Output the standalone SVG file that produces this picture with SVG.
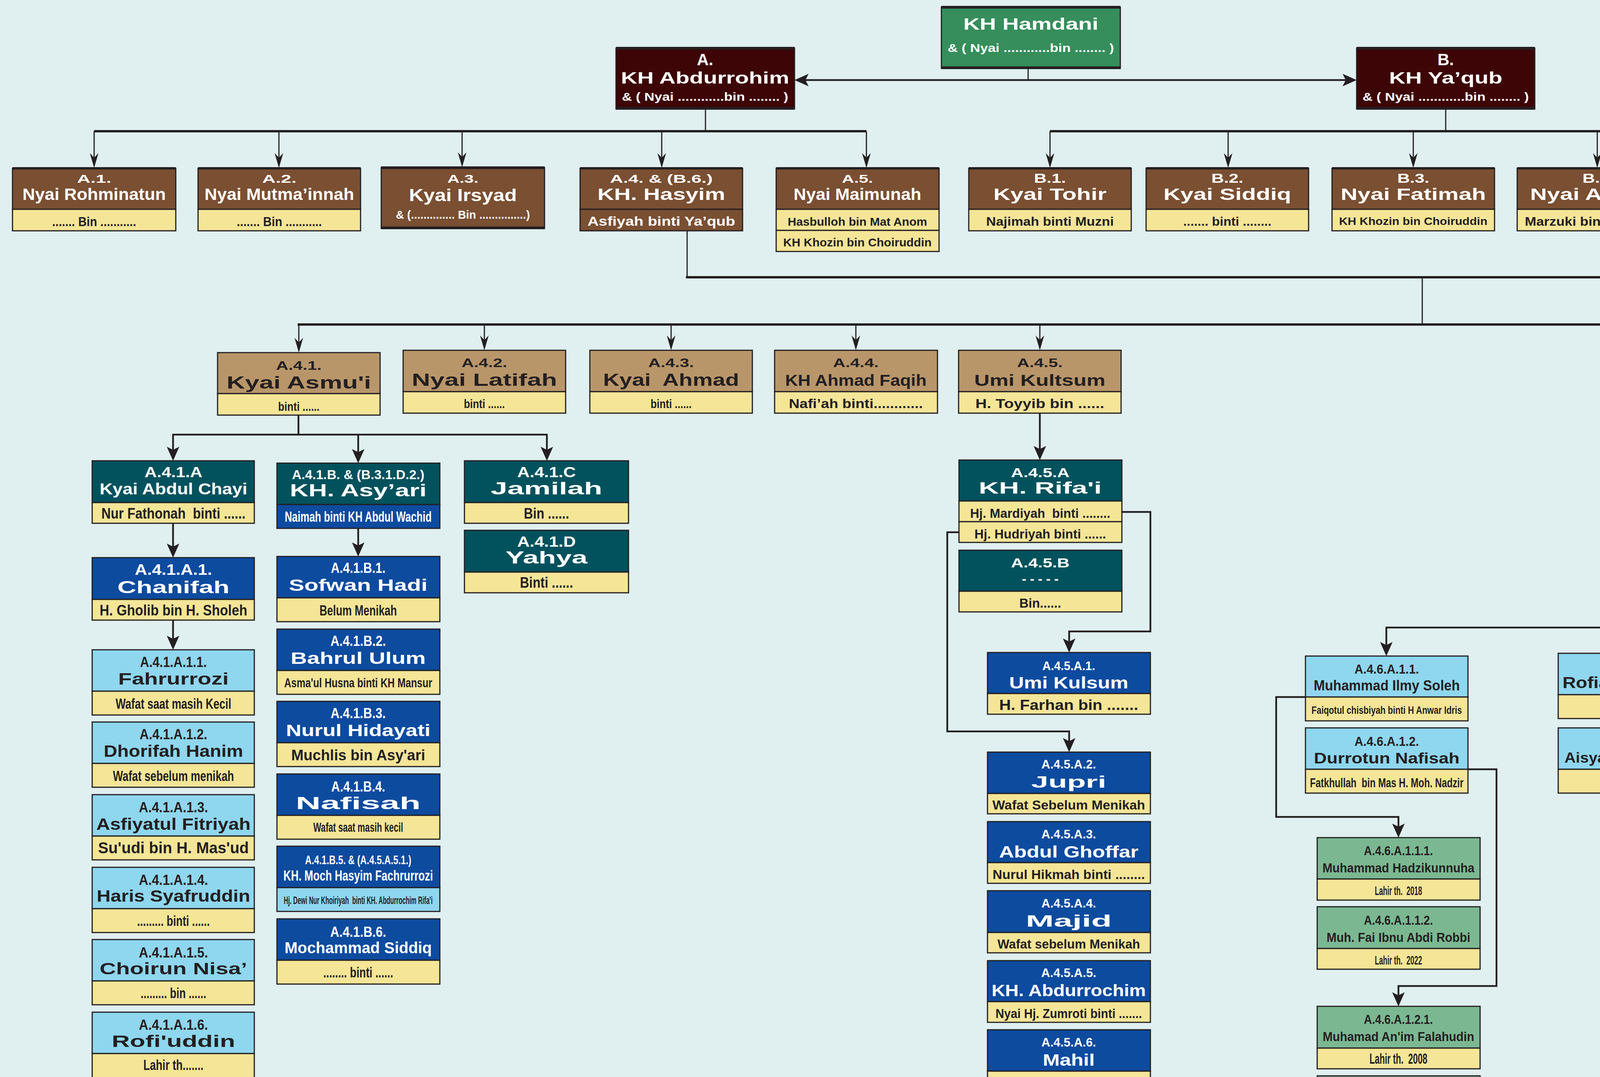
<svg xmlns="http://www.w3.org/2000/svg" width="6339" height="2758" viewBox="0 0 6339 2758">
<style>
.bx{stroke:#231f20;stroke-width:3}
.g1{fill:#358e5b}.mr{fill:#3d0506}.br{fill:#7a4f32}.tn{fill:#b9966a}.yl{fill:#f4e597}.tl{fill:#02525d}.bl{fill:#0d4b9f}.lb{fill:#8fd6ef}.gr{fill:#7bb892}
.bar{fill:#231f20}
text{font-family:'Liberation Sans',Arial,sans-serif;font-weight:bold;text-anchor:middle;white-space:pre}
.w{fill:#fff}.d{fill:#231f20}
.f24{font-size:24px}.f26{font-size:26px}.f28{font-size:28px}.f30{font-size:30px}.f32{font-size:32px}.f34{font-size:34px}.f36{font-size:36px}.f38{font-size:38px}.f40{font-size:40px}.f42{font-size:42px}.f44{font-size:44px}
.c{fill:none;stroke:#231f20;stroke-width:3}
.c5{fill:none;stroke:#231f20;stroke-width:4.5}
.bus{fill:none;stroke:#231f20;stroke-width:6}
</style>
<defs>
<marker id="an" markerUnits="userSpaceOnUse" viewBox="0 0 40 30" markerWidth="40" markerHeight="30" refX="18" refY="15" orient="auto"><path d="M0,4 L38,15 L0,26 L12,15 Z" fill="#231f20"/></marker>
<marker id="aw" markerUnits="userSpaceOnUse" viewBox="0 0 40 40" markerWidth="40" markerHeight="40" refX="16" refY="20" orient="auto"><path d="M0,4 L36,20 L0,36 L8,20 Z" fill="#231f20"/></marker>
<marker id="ab" markerUnits="userSpaceOnUse" viewBox="0 0 40 32" markerWidth="40" markerHeight="32" refX="16" refY="16" orient="auto-start-reverse"><path d="M0,0 L36,16 L0,32 L8,16 Z" fill="#231f20"/></marker>
</defs>
<rect x="0" y="0" width="6339" height="2758" fill="#e0eff0"/>

<g id="connectors">
<path class="c" d="M2632,175 V205"/>
<path class="c5" d="M2054,205 H3453" marker-start="url(#ab)" marker-end="url(#ab)"/>
<path class="c" d="M1806,279 V336 M3701,279 V336"/>
<path class="bus" d="M241,336 H2218 M2688,336 H5987"/>
<path class="c" d="M241,336 V410" marker-end="url(#an)"/>
<path class="c" d="M714,336 V410" marker-end="url(#an)"/>
<path class="c" d="M1183,336 V408" marker-end="url(#an)"/>
<path class="c" d="M1694,336 V410" marker-end="url(#an)"/>
<path class="c" d="M2218,336 V410" marker-end="url(#an)"/>
<path class="c" d="M2688,336 V410" marker-end="url(#an)"/>
<path class="c" d="M3144,336 V410" marker-end="url(#an)"/>
<path class="c" d="M3618,336 V410" marker-end="url(#an)"/>
<path class="c" d="M4089,336 V410" marker-end="url(#an)"/>
<path class="c" d="M4556,336 V410" marker-end="url(#an)"/>
<path class="c" d="M5037,336 V410" marker-end="url(#an)"/>
<path class="c" d="M5506,336 V410" marker-end="url(#an)"/>
<path class="c" d="M5987,336 V410" marker-end="url(#an)"/>
<path class="c" d="M1759,592 V710 M5037,592 V710 M3641,713 V831"/>
<path class="bus" d="M1756,710 H5040 M762,831 H6082"/>
<path class="c" d="M765,831 V883" marker-end="url(#an)"/>
<path class="c" d="M1240,831 V877" marker-end="url(#an)"/>
<path class="c" d="M1718,831 V877" marker-end="url(#an)"/>
<path class="c" d="M2191,831 V877" marker-end="url(#an)"/>
<path class="c" d="M2662,831 V877" marker-end="url(#an)"/>
<path class="c" d="M4334,831 V877" marker-end="url(#an)"/>
<path class="c" d="M5574,831 V877" marker-end="url(#an)"/>
<path class="c" d="M6079,831 V883" marker-end="url(#an)"/>
<path class="c5" d="M764,1063 V1113 M441,1113 H1402"/>
<path class="c5" d="M443,1113 V1160" marker-end="url(#aw)"/>
<path class="c5" d="M917,1113 V1166" marker-end="url(#aw)"/>
<path class="c5" d="M1400,1113 V1160" marker-end="url(#aw)"/>
<path class="c5" d="M443,1340 V1408" marker-end="url(#aw)"/>
<path class="c5" d="M443,1588 V1644" marker-end="url(#aw)"/>
<path class="c5" d="M917,1353 V1405" marker-end="url(#aw)"/>
<path class="c5" d="M2662,1058 V1158" marker-end="url(#aw)"/>
<path class="c5" d="M2872,1311 H2945 V1617 H2737 V1651" marker-end="url(#aw)"/>
<path class="c5" d="M2455,1363 H2425 V1873 H2737 V1906" marker-end="url(#aw)"/>
<path class="c5" d="M4334,1058 V1117" marker-end="url(#aw)"/>
<path class="c5" d="M4334,1296 V1356" marker-end="url(#aw)"/>
<path class="c5" d="M4334,1536 V1607 M3547,1607 H4832"/>
<path class="c5" d="M3549,1607 V1660" marker-end="url(#aw)"/>
<path class="c5" d="M4197,1607 V1653" marker-end="url(#aw)"/>
<path class="c5" d="M4830,1607 V1660" marker-end="url(#aw)"/>
<path class="c5" d="M3342,1785 H3267 V2092 H3580 V2125" marker-end="url(#aw)"/>
<path class="c5" d="M3758,1970 H3831 V2525 H3580 V2557" marker-end="url(#aw)"/>
<path class="c5" d="M5574,1058 V1117" marker-end="url(#aw)"/>
</g>

<g id="n-hamdani">
<rect x="2410" y="18" width="458" height="157" class="g1 bx"/>
<rect x="2410" y="15" width="458" height="7" class="bar"/><rect x="2410" y="170" width="458" height="7" class="bar"/>
<text x="2639" y="76" class="w f42" textLength="346" lengthAdjust="spacingAndGlyphs">KH Hamdani</text>
<text x="2639" y="133" class="w f30" textLength="426" lengthAdjust="spacingAndGlyphs">&amp; ( Nyai ............bin ........ )</text>
</g>
<g id="n-A">
<rect x="1577" y="123" width="457" height="156" class="mr bx"/>
<rect x="1577" y="120" width="457" height="7" class="bar"/><rect x="1577" y="274" width="457" height="7" class="bar"/>
<text x="1805" y="167" class="w f42">A.</text>
<text x="1805" y="214" class="w f42" textLength="431" lengthAdjust="spacingAndGlyphs">KH Abdurrohim</text>
<text x="1805" y="258" class="w f30" textLength="426" lengthAdjust="spacingAndGlyphs">&amp; ( Nyai ............bin ........ )</text>
</g>
<g id="n-B">
<rect x="3473" y="123" width="456" height="156" class="mr bx"/>
<rect x="3473" y="120" width="456" height="7" class="bar"/><rect x="3473" y="274" width="456" height="7" class="bar"/>
<text x="3701" y="167" class="w f42">B.</text>
<text x="3701" y="214" class="w f42" textLength="290" lengthAdjust="spacingAndGlyphs">KH Ya’qub</text>
<text x="3701" y="258" class="w f30" textLength="426" lengthAdjust="spacingAndGlyphs">&amp; ( Nyai ............bin ........ )</text>
</g>

<g id="n-A1">
<rect x="32" y="431" width="418" height="105" class="br bx"/><rect x="32" y="536" width="418" height="55" class="yl bx"/><rect x="32" y="428" width="418" height="6" class="bar"/>
<text x="241" y="468" class="w f30" textLength="88" lengthAdjust="spacingAndGlyphs">A.1.</text>
<text x="241" y="512" class="w f42" textLength="367" lengthAdjust="spacingAndGlyphs">Nyai Rohminatun</text>
<text x="241" y="579" class="d f34" textLength="215" lengthAdjust="spacingAndGlyphs">....... Bin ...........</text>
</g>
<g id="n-A2">
<rect x="507" y="431" width="416" height="105" class="br bx"/><rect x="507" y="536" width="416" height="55" class="yl bx"/><rect x="507" y="428" width="416" height="6" class="bar"/>
<text x="715" y="468" class="w f30" textLength="88" lengthAdjust="spacingAndGlyphs">A.2.</text>
<text x="715" y="512" class="w f42" textLength="383" lengthAdjust="spacingAndGlyphs">Nyai Mutma’innah</text>
<text x="715" y="579" class="d f34" textLength="218" lengthAdjust="spacingAndGlyphs">....... Bin ...........</text>
</g>
<g id="n-A3">
<rect x="976" y="429" width="418" height="156" class="br bx"/><rect x="976" y="426" width="418" height="7" class="bar"/><rect x="976" y="580" width="418" height="7" class="bar"/>
<text x="1185" y="468" class="w f30" textLength="80" lengthAdjust="spacingAndGlyphs">A.3.</text>
<text x="1185" y="515" class="w f44" textLength="276" lengthAdjust="spacingAndGlyphs">Kyai Irsyad</text>
<text x="1185" y="560" class="w f30" textLength="343" lengthAdjust="spacingAndGlyphs">&amp; (.............. Bin ...............)</text>
</g>
<g id="n-A4">
<rect x="1485" y="431" width="416" height="105" class="br bx"/><rect x="1485" y="536" width="416" height="55" class="br bx"/><rect x="1485" y="428" width="416" height="6" class="bar"/>
<text x="1693" y="468" class="w f30" textLength="263" lengthAdjust="spacingAndGlyphs">A.4. &amp; (B.6.)</text>
<text x="1693" y="512" class="w f42" textLength="327" lengthAdjust="spacingAndGlyphs">KH. Hasyim</text>
<text x="1693" y="578" class="w f34" textLength="378" lengthAdjust="spacingAndGlyphs">Asfiyah binti Ya’qub</text>
</g>
<g id="n-A5">
<rect x="1987" y="431" width="417" height="105" class="br bx"/><rect x="1987" y="536" width="417" height="54" class="yl bx"/><rect x="1987" y="590" width="417" height="54" class="yl bx"/><rect x="1987" y="428" width="417" height="6" class="bar"/>
<text x="2195" y="468" class="w f30" textLength="80" lengthAdjust="spacingAndGlyphs">A.5.</text>
<text x="2195" y="512" class="w f42" textLength="327" lengthAdjust="spacingAndGlyphs">Nyai Maimunah</text>
<text x="2195" y="578" class="d f30" textLength="357" lengthAdjust="spacingAndGlyphs">Hasbulloh bin Mat Anom</text>
<text x="2195" y="631" class="d f30" textLength="380" lengthAdjust="spacingAndGlyphs">KH Khozin bin Choiruddin</text>
</g>

<g id="n-B1">
<rect x="2480" y="431" width="416" height="105" class="br bx"/><rect x="2480" y="536" width="416" height="55" class="yl bx"/><rect x="2480" y="428" width="416" height="6" class="bar"/>
<text x="2688" y="468" class="w f34" textLength="82" lengthAdjust="spacingAndGlyphs">B.1.</text>
<text x="2688" y="512" class="w f42" textLength="290" lengthAdjust="spacingAndGlyphs">Kyai Tohir</text>
<text x="2688" y="578" class="d f32" textLength="327" lengthAdjust="spacingAndGlyphs">Najimah binti Muzni</text>
</g>
<g id="n-B2">
<rect x="2934" y="431" width="416" height="105" class="br bx"/><rect x="2934" y="536" width="416" height="55" class="yl bx"/><rect x="2934" y="428" width="416" height="6" class="bar"/>
<text x="3142" y="468" class="w f34" textLength="82" lengthAdjust="spacingAndGlyphs">B.2.</text>
<text x="3142" y="512" class="w f42" textLength="327" lengthAdjust="spacingAndGlyphs">Kyai Siddiq</text>
<text x="3142" y="578" class="d f32" textLength="226" lengthAdjust="spacingAndGlyphs">....... binti ........</text>
</g>
<g id="n-B3">
<rect x="3410" y="431" width="416" height="105" class="br bx"/><rect x="3410" y="536" width="416" height="55" class="yl bx"/><rect x="3410" y="428" width="416" height="6" class="bar"/>
<text x="3618" y="468" class="w f34" textLength="82" lengthAdjust="spacingAndGlyphs">B.3.</text>
<text x="3618" y="512" class="w f42" textLength="372" lengthAdjust="spacingAndGlyphs">Nyai Fatimah</text>
<text x="3618" y="576" class="d f28" textLength="380" lengthAdjust="spacingAndGlyphs">KH Khozin bin Choiruddin</text>
</g>
<g id="n-B4">
<rect x="3884" y="431" width="416" height="105" class="br bx"/><rect x="3884" y="536" width="416" height="55" class="yl bx"/><rect x="3884" y="428" width="416" height="6" class="bar"/>
<text x="4092" y="468" class="w f34" textLength="82" lengthAdjust="spacingAndGlyphs">B.4.</text>
<text x="4092" y="512" class="w f42" textLength="350" lengthAdjust="spacingAndGlyphs">Nyai A’isyah</text>
<text x="4092" y="578" class="d f32" textLength="377" lengthAdjust="spacingAndGlyphs">Marzuki bin Kyai Bakri</text>
</g>
<g id="n-B5">
<rect x="4357" y="431" width="417" height="105" class="br bx"/><rect x="4357" y="536" width="417" height="55" class="yl bx"/><rect x="4357" y="428" width="417" height="6" class="bar"/>
<text x="4565" y="468" class="w f34" textLength="82" lengthAdjust="spacingAndGlyphs">B.5.</text>
<text x="4565" y="512" class="w f42" textLength="327" lengthAdjust="spacingAndGlyphs">Ruqoyyah</text>
<text x="4565" y="578" class="d f32" textLength="340" lengthAdjust="spacingAndGlyphs">Kyai Adzro’i bin .......</text>
</g>
<g id="n-B6">
<rect x="4831" y="431" width="417" height="105" class="br bx"/><rect x="4831" y="536" width="417" height="55" class="br bx"/><rect x="4831" y="428" width="417" height="6" class="bar"/>
<text x="5039" y="468" class="w f34" textLength="258" lengthAdjust="spacingAndGlyphs">B.6. &amp; (A.4.)</text>
<text x="5039" y="512" class="w f42" textLength="360" lengthAdjust="spacingAndGlyphs">Nyai Asfiyah</text>
<text x="5039" y="574" class="w f26" textLength="372" lengthAdjust="spacingAndGlyphs">KH. Hasyim bin Abdurrohim</text>
</g>
<g id="n-B7">
<rect x="5305" y="431" width="416" height="105" class="br bx"/><rect x="5305" y="536" width="416" height="55" class="yl bx"/><rect x="5305" y="428" width="416" height="6" class="bar"/>
<text x="5513" y="468" class="w f34" textLength="82" lengthAdjust="spacingAndGlyphs">B.7.</text>
<text x="5513" y="512" class="w f42" textLength="397" lengthAdjust="spacingAndGlyphs">Nyai Khodijah</text>
<text x="5513" y="574" class="d f26" textLength="372" lengthAdjust="spacingAndGlyphs">KH Hasyim Asy’ari bin Asy’ari</text>
</g>
<g id="n-B8">
<rect x="5778" y="431" width="417" height="105" class="br bx"/><rect x="5778" y="536" width="417" height="55" class="yl bx"/><rect x="5778" y="428" width="417" height="6" class="bar"/>
<text x="5986" y="468" class="w f34" textLength="82" lengthAdjust="spacingAndGlyphs">B.8.</text>
<text x="5986" y="510" class="w f34" textLength="377" lengthAdjust="spacingAndGlyphs">KH Abdul Mukhith</text>
<text x="5986" y="573" class="d f24" textLength="377" lengthAdjust="spacingAndGlyphs">Zuhro binti Syech Nawawi Albantani</text>
</g>

<g id="n-A41">
<rect x="557" y="903" width="416" height="105" class="tn bx"/><rect x="557" y="1008" width="416" height="55" class="yl bx"/>
<text x="765" y="947" class="d f32" textLength="117" lengthAdjust="spacingAndGlyphs">A.4.1.</text>
<text x="765" y="995" class="d f44" textLength="370" lengthAdjust="spacingAndGlyphs">Kyai Asmu'i</text>
<text x="765" y="1052" class="d f32" textLength="106" lengthAdjust="spacingAndGlyphs">binti ......</text>
</g>
<g id="n-A42">
<rect x="1032" y="897" width="416" height="106" class="tn bx"/><rect x="1032" y="1003" width="416" height="55" class="yl bx"/>
<text x="1240" y="940" class="d f32" textLength="117" lengthAdjust="spacingAndGlyphs">A.4.2.</text>
<text x="1240" y="988" class="d f44" textLength="372" lengthAdjust="spacingAndGlyphs">Nyai Latifah</text>
<text x="1240" y="1045" class="d f32" textLength="105" lengthAdjust="spacingAndGlyphs">binti ......</text>
</g>
<g id="n-A43">
<rect x="1510" y="897" width="416" height="106" class="tn bx"/><rect x="1510" y="1003" width="416" height="55" class="yl bx"/>
<text x="1718" y="940" class="d f32" textLength="117" lengthAdjust="spacingAndGlyphs">A.4.3.</text>
<text x="1718" y="988" class="d f44" textLength="348" lengthAdjust="spacingAndGlyphs">Kyai  Ahmad</text>
<text x="1718" y="1045" class="d f32" textLength="105" lengthAdjust="spacingAndGlyphs">binti ......</text>
</g>
<g id="n-A44">
<rect x="1983" y="897" width="417" height="106" class="tn bx"/><rect x="1983" y="1003" width="417" height="55" class="yl bx"/>
<text x="2191" y="940" class="d f32" textLength="117" lengthAdjust="spacingAndGlyphs">A.4.4.</text>
<text x="2191" y="988" class="d f40" textLength="362" lengthAdjust="spacingAndGlyphs">KH Ahmad Faqih</text>
<text x="2191" y="1045" class="d f34" textLength="343" lengthAdjust="spacingAndGlyphs">Nafi’ah binti............</text>
</g>
<g id="n-A45">
<rect x="2454" y="897" width="416" height="106" class="tn bx"/><rect x="2454" y="1003" width="416" height="55" class="yl bx"/>
<text x="2662" y="940" class="d f32" textLength="117" lengthAdjust="spacingAndGlyphs">A.4.5.</text>
<text x="2662" y="988" class="d f40" textLength="336" lengthAdjust="spacingAndGlyphs">Umi Kultsum</text>
<text x="2662" y="1045" class="d f34" textLength="330" lengthAdjust="spacingAndGlyphs">H. Toyyib bin ......</text>
</g>
<g id="n-A46">
<rect x="4125" y="897" width="416" height="106" class="tn bx"/><rect x="4125" y="1003" width="416" height="55" class="yl bx"/>
<text x="4333" y="940" class="d f32" textLength="117" lengthAdjust="spacingAndGlyphs">A.4.6.</text>
<text x="4333" y="988" class="d f42" textLength="380" lengthAdjust="spacingAndGlyphs">Achmad Sholeh</text>
<text x="4333" y="1045" class="d f32" textLength="107" lengthAdjust="spacingAndGlyphs">binti ......</text>
</g>
<g id="n-A47">
<rect x="5368" y="897" width="415" height="106" class="tn bx"/><rect x="5368" y="1003" width="415" height="55" class="yl bx"/>
<text x="5575" y="940" class="d f32" textLength="117" lengthAdjust="spacingAndGlyphs">A.4.7.</text>
<text x="5575" y="988" class="d f42" textLength="367" lengthAdjust="spacingAndGlyphs">Nyai Mahbubah</text>
<text x="5575" y="1045" class="d f30" textLength="376" lengthAdjust="spacingAndGlyphs">KH. Khannan bin ................</text>
</g>
<g id="n-A48">
<rect x="5872" y="903" width="416" height="105" class="tn bx"/><rect x="5872" y="1008" width="416" height="55" class="yl bx"/>
<text x="6080" y="947" class="d f32" textLength="117" lengthAdjust="spacingAndGlyphs">A.4.8.</text>
<text x="6080" y="995" class="d f44" textLength="368" lengthAdjust="spacingAndGlyphs">Nyai Rohmah</text>
<text x="6080" y="1052" class="d f32" textLength="107" lengthAdjust="spacingAndGlyphs">binti ......</text>
</g>

<g id="n-A41A">
<rect x="236" y="1180" width="415" height="107" class="tl bx"/><rect x="236" y="1287" width="415" height="53" class="yl bx"/>
<text x="444" y="1222" class="w f36" textLength="148" lengthAdjust="spacingAndGlyphs">A.4.1.A</text>
<text x="444" y="1266" class="w f40" textLength="378" lengthAdjust="spacingAndGlyphs">Kyai Abdul Chayi</text>
<text x="444" y="1328" class="d f38" textLength="369" lengthAdjust="spacingAndGlyphs">Nur Fathonah  binti ......</text>
</g>
<g id="n-A41B">
<rect x="709" y="1186" width="417" height="106" class="tl bx"/><rect x="709" y="1292" width="417" height="61" class="bl bx"/>
<text x="917" y="1227" class="w f34" textLength="339" lengthAdjust="spacingAndGlyphs">A.4.1.B. &amp; (B.3.1.D.2.)</text>
<text x="917" y="1271" class="w f44" textLength="350" lengthAdjust="spacingAndGlyphs">KH. Asy’ari</text>
<text x="917" y="1336" class="w f36" textLength="376" lengthAdjust="spacingAndGlyphs">Naimah binti KH Abdul Wachid</text>
</g>
<g id="n-A41C">
<rect x="1189" y="1180" width="420" height="107" class="tl bx"/><rect x="1189" y="1287" width="420" height="53" class="yl bx"/>
<text x="1399" y="1222" class="w f36" textLength="150" lengthAdjust="spacingAndGlyphs">A.4.1.C</text>
<text x="1399" y="1266" class="w f44" textLength="286" lengthAdjust="spacingAndGlyphs">Jamilah</text>
<text x="1399" y="1328" class="d f38" textLength="116" lengthAdjust="spacingAndGlyphs">Bin ......</text>
</g>
<g id="n-A41D">
<rect x="1189" y="1358" width="420" height="107" class="tl bx"/><rect x="1189" y="1465" width="420" height="53" class="yl bx"/>
<text x="1399" y="1400" class="w f36" textLength="150" lengthAdjust="spacingAndGlyphs">A.4.1.D</text>
<text x="1399" y="1443" class="w f44" textLength="210" lengthAdjust="spacingAndGlyphs">Yahya</text>
<text x="1399" y="1505" class="d f38" textLength="136" lengthAdjust="spacingAndGlyphs">Binti ......</text>
</g>
<g id="n-A41A1">
<rect x="236" y="1428" width="415" height="107" class="bl bx"/><rect x="236" y="1535" width="415" height="53" class="yl bx"/>
<text x="444" y="1472" class="w f38" textLength="198" lengthAdjust="spacingAndGlyphs">A.4.1.A.1.</text>
<text x="444" y="1519" class="w f44" textLength="287" lengthAdjust="spacingAndGlyphs">Chanifah</text>
<text x="444" y="1576" class="d f38" textLength="378" lengthAdjust="spacingAndGlyphs">H. Gholib bin H. Sholeh</text>
</g>
<g id="n-A41A11">
<rect x="236" y="1664" width="415" height="106" class="lb bx"/><rect x="236" y="1770" width="415" height="61" class="yl bx"/>
<text x="444" y="1708" class="d f36" textLength="171" lengthAdjust="spacingAndGlyphs">A.4.1.A.1.1.</text>
<text x="444" y="1753" class="d f42" textLength="283" lengthAdjust="spacingAndGlyphs">Fahrurrozi</text>
<text x="444" y="1815" class="d f36" textLength="296" lengthAdjust="spacingAndGlyphs">Wafat saat masih Kecil</text>
</g>
<g id="n-A41A12">
<rect x="236" y="1849" width="415" height="106" class="lb bx"/><rect x="236" y="1955" width="415" height="61" class="yl bx"/>
<text x="444" y="1893" class="d f36" textLength="173" lengthAdjust="spacingAndGlyphs">A.4.1.A.1.2.</text>
<text x="444" y="1938" class="d f42" textLength="357" lengthAdjust="spacingAndGlyphs">Dhorifah Hanim</text>
<text x="444" y="2000" class="d f36" textLength="310" lengthAdjust="spacingAndGlyphs">Wafat sebelum menikah</text>
</g>
<g id="n-A41A13">
<rect x="236" y="2035" width="415" height="106" class="lb bx"/><rect x="236" y="2141" width="415" height="61" class="yl bx"/>
<text x="444" y="2080" class="d f36" textLength="177" lengthAdjust="spacingAndGlyphs">A.4.1.A.1.3.</text>
<text x="444" y="2125" class="d f42" textLength="395" lengthAdjust="spacingAndGlyphs">Asfiyatul Fitriyah</text>
<text x="444" y="2185" class="d f40" textLength="386" lengthAdjust="spacingAndGlyphs">Su'udi bin H. Mas'ud</text>
</g>
<g id="n-A41A14">
<rect x="236" y="2221" width="415" height="106" class="lb bx"/><rect x="236" y="2327" width="415" height="61" class="yl bx"/>
<text x="444" y="2266" class="d f36" textLength="177" lengthAdjust="spacingAndGlyphs">A.4.1.A.1.4.</text>
<text x="444" y="2309" class="d f42" textLength="393" lengthAdjust="spacingAndGlyphs">Haris Syafruddin</text>
<text x="444" y="2371" class="d f36" textLength="186" lengthAdjust="spacingAndGlyphs">......... binti ......</text>
</g>
<g id="n-A41A15">
<rect x="236" y="2406" width="415" height="106" class="lb bx"/><rect x="236" y="2512" width="415" height="61" class="yl bx"/>
<text x="444" y="2452" class="d f36" textLength="177" lengthAdjust="spacingAndGlyphs">A.4.1.A.1.5.</text>
<text x="444" y="2495" class="d f42" textLength="378" lengthAdjust="spacingAndGlyphs">Choirun Nisa’</text>
<text x="444" y="2556" class="d f36" textLength="168" lengthAdjust="spacingAndGlyphs">......... bin ......</text>
</g>
<g id="n-A41A16">
<rect x="236" y="2592" width="415" height="106" class="lb bx"/><rect x="236" y="2698" width="415" height="64" class="yl bx"/>
<text x="444" y="2637" class="d f36" textLength="177" lengthAdjust="spacingAndGlyphs">A.4.1.A.1.6.</text>
<text x="444" y="2681" class="d f42" textLength="316" lengthAdjust="spacingAndGlyphs">Rofi'uddin</text>
<text x="444" y="2740" class="d f36" textLength="154" lengthAdjust="spacingAndGlyphs">Lahir th.......</text>
</g>
<g id="n-A41B1">
<rect x="709" y="1425" width="417" height="106" class="bl bx"/><rect x="709" y="1531" width="417" height="61" class="yl bx"/>
<text x="917" y="1467" class="w f36" textLength="140" lengthAdjust="spacingAndGlyphs">A.4.1.B.1.</text>
<text x="917" y="1513" class="w f42" textLength="355" lengthAdjust="spacingAndGlyphs">Sofwan Hadi</text>
<text x="917" y="1576" class="d f36" textLength="198" lengthAdjust="spacingAndGlyphs">Belum Menikah</text>
</g>
<g id="n-A41B2">
<rect x="709" y="1611" width="417" height="106" class="bl bx"/><rect x="709" y="1717" width="417" height="61" class="yl bx"/>
<text x="917" y="1654" class="w f36" textLength="142" lengthAdjust="spacingAndGlyphs">A.4.1.B.2.</text>
<text x="917" y="1700" class="w f42" textLength="346" lengthAdjust="spacingAndGlyphs">Bahrul Ulum</text>
<text x="917" y="1760" class="d f34" textLength="379" lengthAdjust="spacingAndGlyphs">Asma'ul Husna binti KH Mansur</text>
</g>
<g id="n-A41B3">
<rect x="709" y="1796" width="417" height="106" class="bl bx"/><rect x="709" y="1902" width="417" height="61" class="yl bx"/>
<text x="917" y="1839" class="w f36" textLength="141" lengthAdjust="spacingAndGlyphs">A.4.1.B.3.</text>
<text x="917" y="1885" class="w f42" textLength="370" lengthAdjust="spacingAndGlyphs">Nurul Hidayati</text>
<text x="917" y="1947" class="d f38" textLength="343" lengthAdjust="spacingAndGlyphs">Muchlis bin Asy'ari</text>
</g>
<g id="n-A41B4">
<rect x="709" y="1982" width="417" height="106" class="bl bx"/><rect x="709" y="2088" width="417" height="61" class="yl bx"/>
<text x="917" y="2027" class="w f36" textLength="138" lengthAdjust="spacingAndGlyphs">A.4.1.B.4.</text>
<text x="917" y="2072" class="w f44" textLength="320" lengthAdjust="spacingAndGlyphs">Nafisah</text>
<text x="917" y="2130" class="d f34" textLength="230" lengthAdjust="spacingAndGlyphs">Wafat saat masih kecil</text>
</g>
<g id="n-A41B5">
<rect x="709" y="2167" width="417" height="106" class="bl bx"/><rect x="709" y="2273" width="417" height="61" class="lb bx"/>
<text x="917" y="2213" class="w f32" textLength="272" lengthAdjust="spacingAndGlyphs">A.4.1.B.5. &amp; (A.4.5.A.5.1.)</text>
<text x="917" y="2255" class="w f36" textLength="383" lengthAdjust="spacingAndGlyphs">KH. Moch Hasyim Fachrurrozi</text>
<text x="917" y="2315" class="d f28" textLength="381" lengthAdjust="spacingAndGlyphs">Hj. Dewi Nur Khoiriyah  binti KH. Abdurrochim Rifa'i</text>
</g>
<g id="n-A41B6">
<rect x="709" y="2353" width="417" height="106" class="bl bx"/><rect x="709" y="2459" width="417" height="61" class="yl bx"/>
<text x="917" y="2399" class="w f36" textLength="143" lengthAdjust="spacingAndGlyphs">A.4.1.B.6.</text>
<text x="917" y="2441" class="w f40" textLength="377" lengthAdjust="spacingAndGlyphs">Mochammad Siddiq</text>
<text x="917" y="2503" class="d f36" textLength="179" lengthAdjust="spacingAndGlyphs">........ binti ......</text>
</g>

<g id="n-A45A">
<rect x="2455" y="1178" width="417" height="105" class="tl bx"/><rect x="2455" y="1283" width="417" height="53" class="yl bx"/><rect x="2455" y="1336" width="417" height="53" class="yl bx"/>
<text x="2663" y="1222" class="w f34" textLength="150" lengthAdjust="spacingAndGlyphs">A.4.5.A</text>
<text x="2663" y="1264" class="w f42" textLength="315" lengthAdjust="spacingAndGlyphs">KH. Rifa'i</text>
<text x="2663" y="1326" class="d f34" textLength="359" lengthAdjust="spacingAndGlyphs">Hj. Mardiyah  binti ........</text>
<text x="2663" y="1379" class="d f34" textLength="337" lengthAdjust="spacingAndGlyphs">Hj. Hudriyah binti ......</text>
</g>
<g id="n-A45B">
<rect x="2455" y="1409" width="417" height="105" class="tl bx"/><rect x="2455" y="1514" width="417" height="53" class="yl bx"/>
<text x="2663" y="1453" class="w f34" textLength="150" lengthAdjust="spacingAndGlyphs">A.4.5.B</text>
<text x="2663" y="1494" class="w f34" textLength="94" lengthAdjust="spacingAndGlyphs">- - - - -</text>
<text x="2663" y="1556" class="d f34" textLength="107" lengthAdjust="spacingAndGlyphs">Bin......</text>
</g>
<g id="n-A45A1">
<rect x="2528" y="1671" width="417" height="105" class="bl bx"/><rect x="2528" y="1776" width="417" height="53" class="yl bx"/>
<text x="2736" y="1716" class="w f32" textLength="135" lengthAdjust="spacingAndGlyphs">A.4.5.A.1.</text>
<text x="2736" y="1763" class="w f42" textLength="305" lengthAdjust="spacingAndGlyphs">Umi Kulsum</text>
<text x="2736" y="1818" class="d f36" textLength="356" lengthAdjust="spacingAndGlyphs">H. Farhan bin .......</text>
</g>
<g id="n-A45A2">
<rect x="2528" y="1926" width="417" height="106" class="bl bx"/><rect x="2528" y="2032" width="417" height="52" class="yl bx"/>
<text x="2736" y="1968" class="w f32" textLength="140" lengthAdjust="spacingAndGlyphs">A.4.5.A.2.</text>
<text x="2736" y="2017" class="w f42" textLength="192" lengthAdjust="spacingAndGlyphs">Jupri</text>
<text x="2736" y="2073" class="d f34" textLength="391" lengthAdjust="spacingAndGlyphs">Wafat Sebelum Menikah</text>
</g>
<g id="n-A45A3">
<rect x="2528" y="2104" width="417" height="105" class="bl bx"/><rect x="2528" y="2209" width="417" height="53" class="yl bx"/>
<text x="2736" y="2147" class="w f32" textLength="140" lengthAdjust="spacingAndGlyphs">A.4.5.A.3.</text>
<text x="2736" y="2196" class="w f42" textLength="357" lengthAdjust="spacingAndGlyphs">Abdul Ghoffar</text>
<text x="2736" y="2251" class="d f34" textLength="390" lengthAdjust="spacingAndGlyphs">Nurul Hikmah binti ........</text>
</g>
<g id="n-A45A4">
<rect x="2528" y="2281" width="417" height="107" class="bl bx"/><rect x="2528" y="2388" width="417" height="52" class="yl bx"/>
<text x="2736" y="2324" class="w f32" textLength="140" lengthAdjust="spacingAndGlyphs">A.4.5.A.4.</text>
<text x="2736" y="2373" class="w f42" textLength="220" lengthAdjust="spacingAndGlyphs">Majid</text>
<text x="2736" y="2429" class="d f34" textLength="365" lengthAdjust="spacingAndGlyphs">Wafat sebelum Menikah</text>
</g>
<g id="n-A45A5">
<rect x="2528" y="2460" width="417" height="105" class="bl bx"/><rect x="2528" y="2565" width="417" height="53" class="yl bx"/>
<text x="2736" y="2502" class="w f32" textLength="141" lengthAdjust="spacingAndGlyphs">A.4.5.A.5.</text>
<text x="2736" y="2551" class="w f42" textLength="395" lengthAdjust="spacingAndGlyphs">KH. Abdurrochim</text>
<text x="2736" y="2607" class="d f34" textLength="375" lengthAdjust="spacingAndGlyphs">Nyai Hj. Zumroti binti .......</text>
</g>
<g id="n-A45A6">
<rect x="2528" y="2637" width="417" height="106" class="bl bx"/><rect x="2528" y="2743" width="417" height="30" class="yl bx"/>
<text x="2736" y="2680" class="w f32" textLength="140" lengthAdjust="spacingAndGlyphs">A.4.5.A.6.</text>
<text x="2736" y="2729" class="w f42" textLength="133" lengthAdjust="spacingAndGlyphs">Mahil</text>
</g>

<g id="n-A46A">
<rect x="4127" y="1137" width="415" height="106" class="tl bx"/><rect x="4127" y="1243" width="415" height="53" class="yl bx"/>
<text x="4334" y="1179" class="w f36" textLength="149" lengthAdjust="spacingAndGlyphs">A.4.6.A</text>
<text x="4334" y="1222" class="w f38" textLength="381" lengthAdjust="spacingAndGlyphs">Hj. Asfiyatus Solihah</text>
<text x="4334" y="1282" class="d f28" textLength="401" lengthAdjust="spacingAndGlyphs">KH. Muh. Said bin KH Dahlan Abd Lathif</text>
</g>
<g id="n-A46A1">
<rect x="4127" y="1376" width="415" height="107" class="bl bx"/><rect x="4127" y="1483" width="415" height="53" class="yl bx"/>
<text x="4334" y="1419" class="w f36" textLength="135" lengthAdjust="spacingAndGlyphs">A.4.6.A.1.</text>
<text x="4334" y="1467" class="w f38" textLength="365" lengthAdjust="spacingAndGlyphs">Hj. Nailatul Jannah</text>
<text x="4334" y="1522" class="d f32" textLength="371" lengthAdjust="spacingAndGlyphs">Mas Muh. Baiquni bin H. Kholil</text>
</g>
<g id="n-A46A11">
<rect x="3342" y="1680" width="416" height="105" class="lb bx"/><rect x="3342" y="1785" width="416" height="61" class="yl bx"/>
<text x="3550" y="1725" class="d f34" textLength="165" lengthAdjust="spacingAndGlyphs">A.4.6.A.1.1.</text>
<text x="3550" y="1768" class="d f36" textLength="374" lengthAdjust="spacingAndGlyphs">Muhammad Ilmy Soleh</text>
<text x="3550" y="1828" class="d f28" textLength="385" lengthAdjust="spacingAndGlyphs">Faiqotul chisbiyah binti H Anwar Idris</text>
</g>
<g id="n-A46A12">
<rect x="3342" y="1864" width="416" height="106" class="lb bx"/><rect x="3342" y="1970" width="416" height="61" class="yl bx"/>
<text x="3550" y="1910" class="d f34" textLength="165" lengthAdjust="spacingAndGlyphs">A.4.6.A.1.2.</text>
<text x="3550" y="1955" class="d f38" textLength="373" lengthAdjust="spacingAndGlyphs">Durrotun Nafisah</text>
<text x="3550" y="2016" class="d f34" textLength="393" lengthAdjust="spacingAndGlyphs">Fatkhullah  bin Mas H. Moh. Nadzir</text>
</g>
<g id="n-A46A13">
<rect x="3989" y="1673" width="415" height="106" class="lb bx"/><rect x="3989" y="1779" width="415" height="61" class="yl bx"/>
<text x="4197" y="1717" class="d f34" textLength="164" lengthAdjust="spacingAndGlyphs">A.4.6.A.1.3.</text>
<text x="4197" y="1762" class="d f40" textLength="394" lengthAdjust="spacingAndGlyphs">Rofiatul Badriyah</text>
<text x="4197" y="1823" class="d f34" textLength="193" lengthAdjust="spacingAndGlyphs">Lahir th.  .........</text>
</g>
<g id="n-A46A14">
<rect x="3989" y="1864" width="415" height="106" class="lb bx"/><rect x="3989" y="1970" width="415" height="61" class="yl bx"/>
<text x="4197" y="1909" class="d f34" textLength="164" lengthAdjust="spacingAndGlyphs">A.4.6.A.1.4.</text>
<text x="4197" y="1953" class="d f36" textLength="384" lengthAdjust="spacingAndGlyphs">Aisyah Nur Rizkiyan</text>
<text x="4197" y="2015" class="d f34" textLength="193" lengthAdjust="spacingAndGlyphs">Lahir th.  .........</text>
</g>
<g id="n-A46A15">
<rect x="4622" y="1680" width="416" height="105" class="lb bx"/><rect x="4622" y="1785" width="416" height="61" class="yl bx"/>
<text x="4830" y="1725" class="d f34" textLength="166" lengthAdjust="spacingAndGlyphs">A.4.6.A.1.5.</text>
<text x="4830" y="1768" class="d f36" textLength="367" lengthAdjust="spacingAndGlyphs">Siti Unzilaturrohmah</text>
<text x="4830" y="1829" class="d f34" textLength="192" lengthAdjust="spacingAndGlyphs">Lahir th.  .........</text>
</g>
<g id="n-A46A111">
<rect x="3372" y="2145" width="417" height="106" class="gr bx"/><rect x="3372" y="2251" width="417" height="54" class="yl bx"/>
<text x="3580" y="2190" class="d f34" textLength="177" lengthAdjust="spacingAndGlyphs">A.4.6.A.1.1.1.</text>
<text x="3580" y="2234" class="d f34" textLength="389" lengthAdjust="spacingAndGlyphs">Muhammad Hadzikunnuha</text>
<text x="3580" y="2292" class="d f32" textLength="121" lengthAdjust="spacingAndGlyphs">Lahir th.  2018</text>
</g>
<g id="n-A46A112">
<rect x="3372" y="2322" width="417" height="107" class="gr bx"/><rect x="3372" y="2429" width="417" height="53" class="yl bx"/>
<text x="3580" y="2368" class="d f34" textLength="177" lengthAdjust="spacingAndGlyphs">A.4.6.A.1.1.2.</text>
<text x="3580" y="2412" class="d f34" textLength="368" lengthAdjust="spacingAndGlyphs">Muh. Fai Ibnu Abdi Robbi</text>
<text x="3580" y="2470" class="d f32" textLength="121" lengthAdjust="spacingAndGlyphs">Lahir th.  2022</text>
</g>
<g id="n-A46A121">
<rect x="3372" y="2577" width="417" height="107" class="gr bx"/><rect x="3372" y="2684" width="417" height="53" class="yl bx"/>
<text x="3580" y="2622" class="d f34" textLength="177" lengthAdjust="spacingAndGlyphs">A.4.6.A.1.2.1.</text>
<text x="3580" y="2666" class="d f34" textLength="388" lengthAdjust="spacingAndGlyphs">Muhamad An'im Falahudin</text>
<text x="3580" y="2724" class="d f36" textLength="148" lengthAdjust="spacingAndGlyphs">Lahir th.  2008</text>
</g>
<g id="n-A46A122">
<rect x="3372" y="2755" width="417" height="20" class="gr bx"/>
</g>

<g id="n-A47A">
<rect x="5366" y="1137" width="417" height="107" class="tl bx"/><rect x="5366" y="1244" width="417" height="52" class="yl bx"/>
<text x="5574" y="1178" class="w f36" textLength="149" lengthAdjust="spacingAndGlyphs">A.4.7.A</text>
<text x="5574" y="1222" class="w f40" textLength="343" lengthAdjust="spacingAndGlyphs">Hj. Aisyah</text>
<text x="5574" y="1284" class="d f34" textLength="368" lengthAdjust="spacingAndGlyphs">KH. Juwaini  bin Nuh</text>
</g>
<g id="n-A47B">
<rect x="5366" y="1315" width="417" height="107" class="tl bx"/><rect x="5366" y="1422" width="417" height="52" class="yl bx"/>
<text x="5590" y="1356" class="w f36" textLength="193" lengthAdjust="spacingAndGlyphs">A.4.7.B.</text>
<text x="5580" y="1401" class="w f40" textLength="347" lengthAdjust="spacingAndGlyphs">Hj. Qomariyah</text>
<text x="5580" y="1462" class="d f34" textLength="366" lengthAdjust="spacingAndGlyphs">H. Muhammad bin ........</text>
</g>
<g id="n-A47C">
<rect x="5366" y="1493" width="417" height="107" class="tl bx"/><rect x="5366" y="1600" width="417" height="53" class="yl bx"/>
<text x="5574" y="1535" class="w f36" textLength="149" lengthAdjust="spacingAndGlyphs">A.4.7.C</text>
<text x="5574" y="1579" class="w f40" textLength="347" lengthAdjust="spacingAndGlyphs">Hj. Masruroh</text>
<text x="5583" y="1640" class="d f32" textLength="355" lengthAdjust="spacingAndGlyphs">KH. Muh. Nawawi bin KH Sholeh</text>
</g>
<g id="n-A47D">
<rect x="5366" y="1671" width="417" height="107" class="tl bx"/><rect x="5366" y="1778" width="417" height="52" class="yl bx"/>
<text x="5574" y="1712" class="w f36" textLength="149" lengthAdjust="spacingAndGlyphs">A.4.7.D</text>
<text x="5578" y="1756" class="w f40" textLength="379" lengthAdjust="spacingAndGlyphs">Hj. Fatimah</text>
<text x="5575" y="1818" class="d f34" textLength="372" lengthAdjust="spacingAndGlyphs">H. Yasien Ustman bin .........</text>
</g>
<g id="n-A47E">
<rect x="5366" y="1849" width="417" height="107" class="tl bx"/><rect x="5366" y="1956" width="417" height="52" class="yl bx"/>
<text x="5576" y="1890" class="w f36" textLength="147" lengthAdjust="spacingAndGlyphs">A.4.7.E</text>
<text x="5587" y="1935" class="w f40" textLength="361" lengthAdjust="spacingAndGlyphs">Hj. Channah</text>
<text x="5570" y="1996" class="d f32" textLength="329" lengthAdjust="spacingAndGlyphs">H. Khozin Abd Shomad bin ........</text>
</g>
</svg>
